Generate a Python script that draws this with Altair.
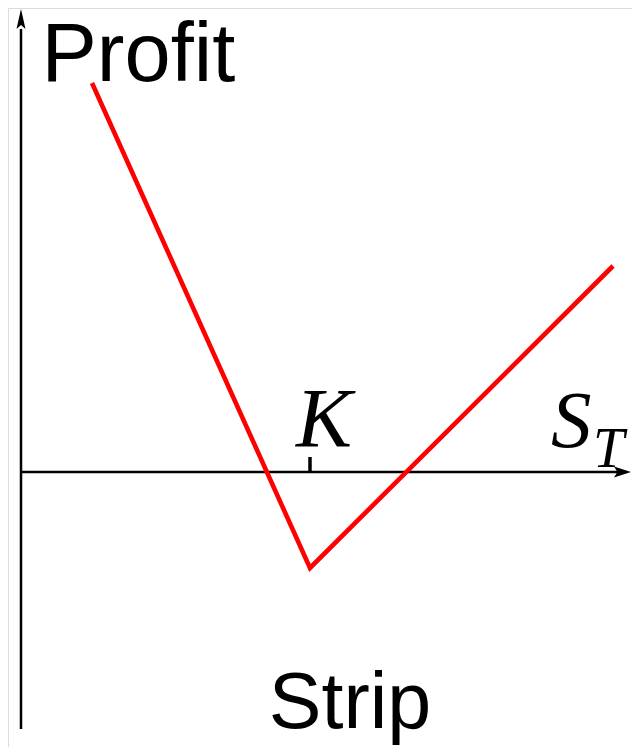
import altair as alt
import pandas as pd

# Payoff of a strip (2 puts + 1 call at strike K)
S_T = [71, 289, 592]
profit = [389, -96, 206]
K = 289

# Axis extents (data units)
x_axis_end = 598
y_axis_bottom = -257
y_axis_top = 443

W, H = 624, 739
xs = alt.Scale(domain=[-13, W - 13], nice=False, zero=False)
ys = alt.Scale(domain=[464 - H, 464], nice=False, zero=False)

def X(f="x"):
    return alt.X(f"{f}:Q", scale=xs, axis=None)

def Y(f="y"):
    return alt.Y(f"{f}:Q", scale=ys, axis=None)

payoff = alt.Chart(pd.DataFrame({"x": S_T, "y": profit})).mark_line(
    color="#ff0000", strokeWidth=4.6, strokeCap="butt", strokeJoin="miter"
).encode(x=X(), y=Y(), order=alt.Order("x:Q"))

axes_df = pd.DataFrame({
    "x": [0, 0], "x2": [x_axis_end, 0],
    "y": [0, y_axis_bottom], "y2": [0, y_axis_top],
})
axes = alt.Chart(axes_df).mark_rule(color="black", strokeWidth=2.5).encode(
    x=X(), x2="x2:Q", y=Y(), y2="y2:Q"
)

tick = alt.Chart(pd.DataFrame({"x": [K], "y": [0], "y2": [15]})).mark_rule(
    color="black", strokeWidth=3.5
).encode(x=X(), y=Y(), y2="y2:Q")

up_arrow = alt.Chart(pd.DataFrame({"x": [0], "y": [453]})).mark_point(
    shape="M0,-1L0.45,1L0,0.6L-0.45,1Z", size=400, filled=True,
    color="black", opacity=1, strokeWidth=0
).encode(x=X(), y=Y())

right_arrow = alt.Chart(pd.DataFrame({"x": [601.5], "y": [0]})).mark_point(
    shape="M1,0L-1,-0.65L-0.6,0L-1,0.65Z", size=289, filled=True,
    color="black", opacity=1, strokeWidth=0
).encode(x=X(), y=Y())

profit_lbl = alt.Chart(pd.DataFrame({"x": [20.5], "y": [391], "t": ["Profit"]})).mark_text(
    font="Liberation Sans", fontSize=83, align="left", baseline="alphabetic", color="black"
).encode(x=X(), y=Y(), text="t:N")

strip_lbl = alt.Chart(pd.DataFrame({"x": [329], "y": [-256], "t": ["Strip"]})).mark_text(
    font="Liberation Sans", fontSize=79, align="center", baseline="alphabetic", color="black"
).encode(x=X(), y=Y(), text="t:N")

k_lbl = alt.Chart(pd.DataFrame({"x": [303], "y": [25], "t": ["K"]})).mark_text(
    font="Liberation Serif", fontStyle="italic", fontSize=84, align="center",
    baseline="alphabetic", color="black"
).encode(x=X(), y=Y(), text="t:N")

s_lbl = alt.Chart(pd.DataFrame({"x": [530], "y": [25], "t": ["S"]})).mark_text(
    font="Liberation Serif", fontStyle="italic", fontSize=81, align="left",
    baseline="alphabetic", color="black"
).encode(x=X(), y=Y(), text="t:N")

t_lbl = alt.Chart(pd.DataFrame({"x": [572], "y": [5], "t": ["T"]})).mark_text(
    font="Liberation Serif", fontStyle="italic", fontSize=56, align="left",
    baseline="alphabetic", color="black"
).encode(x=X(), y=Y(), text="t:N")

chart = alt.layer(
    axes, tick, up_arrow, right_arrow, payoff,
    profit_lbl, strip_lbl, k_lbl, s_lbl, t_lbl
).properties(
    width=W, height=H, padding=0, autosize=alt.AutoSizeParams(type="none")
).configure_view(stroke=None).configure(background="white")

chart.save("out.html", embed_options={"renderer": "svg", "actions": False})
